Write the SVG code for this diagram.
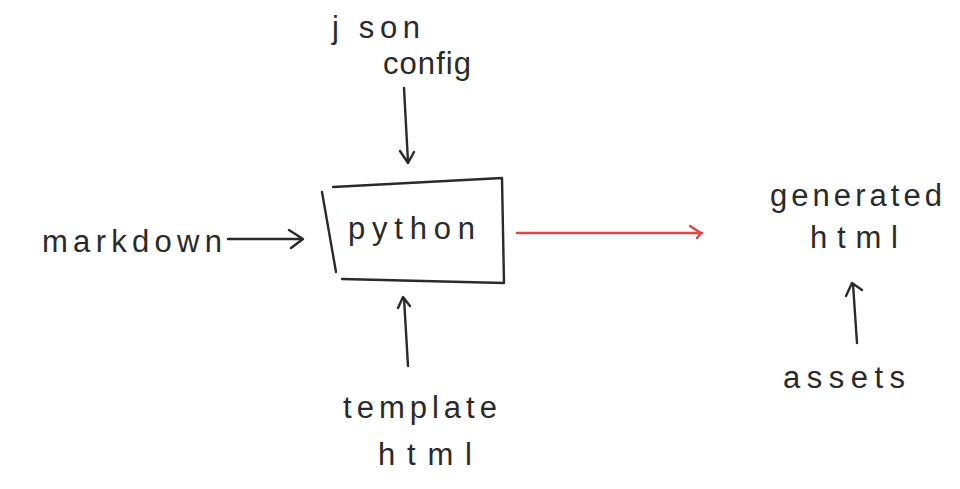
<svg xmlns="http://www.w3.org/2000/svg" width="960" height="489" viewBox="0 0 960 489">
<style>
.t{font-family:"Liberation Sans","DejaVu Sans",sans-serif;font-size:31px;fill:#2a2a2a}
.s{fill:none;stroke:#2a2a2a;stroke-width:2.4;stroke-linecap:round;stroke-linejoin:round}
.r{fill:none;stroke:#e04848;stroke-width:2.4;stroke-linecap:round;stroke-linejoin:round}
</style>
<rect width="960" height="489" fill="#fff"/>
<g id="markdown"><text class="t" x="42" y="252" textLength="180" lengthAdjust="spacing">markdown</text></g>
<g id="json-config">
<text class="t" x="332" y="38" textLength="88" lengthAdjust="spacing">j son</text>
<text class="t" x="383" y="74" textLength="88" lengthAdjust="spacing">config</text>
</g>
<g id="python">
<path class="s" d="M322 192 L336 272 M333 187 L502 178 L504 283 L342 279"/>
<text class="t" x="348" y="239" textLength="127" lengthAdjust="spacing">python</text>
</g>
<g id="template-html">
<text class="t" x="343" y="418" textLength="154" lengthAdjust="spacing">template</text>
<text class="t" x="378" y="465" textLength="94" lengthAdjust="spacing">html</text>
</g>
<g id="generated-html">
<text class="t" x="770" y="206" textLength="172" lengthAdjust="spacing">generated</text>
<text class="t" x="810" y="248" textLength="88" lengthAdjust="spacing">html</text>
</g>
<g id="assets"><text class="t" x="783" y="388" textLength="122" lengthAdjust="spacing">assets</text></g>
<g id="connectors">
<path class="s" d="M228 239 L302 239 M289 230 L303 239 L291 248"/>
<path class="s" d="M404 88 L408 162 M400 151 L408 163 L414 152"/>
<path class="s" d="M408 366 L404 298 M398 308 L403 297 L410 306"/>
<path class="s" d="M857 343 L853 284 M846 296 L852 283 L862 290"/>
<path class="r" d="M517 233 L702 233 M690 226 L701 233 L697 238"/>
</g>
</svg>
